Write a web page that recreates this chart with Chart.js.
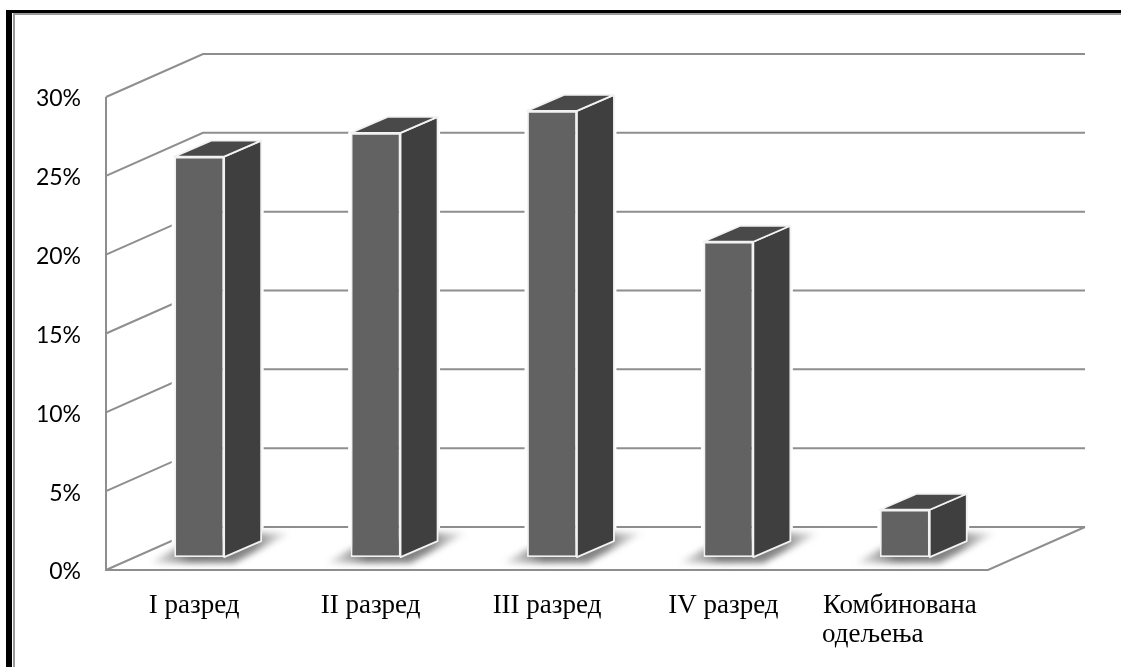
<!DOCTYPE html>
<html>
<head>
<meta charset="utf-8">
<style>
  html, body { margin: 0; padding: 0; background: #fff; overflow: hidden; }
  #frame { position: absolute; left: 6px; top: 10px; width: 1115px; height: 657px; box-sizing: border-box;
           border-left: 6px solid #000; border-top: 3px solid #000; }
  #inner { position: absolute; left: 0; top: 0; right: 0; bottom: 0; border-left: 2px solid #9a9a9a; border-top: 2px solid #9a9a9a; margin-left: 1px; }
  canvas { position: absolute; left: 0; top: 0; }
</style>
</head>
<body>
<div id="frame"><div id="inner"></div></div>
<canvas id="barChart" width="1121" height="667"></canvas>
<script src="https://cdn.jsdelivr.net/npm/chart.js@4"></script>
<script>
// trailing no-break spaces push the second line left, so both lines start at the same x
const categories = ['I разред', 'II разред', 'III разред', 'IV разред',
  ['Комбинована', 'одељења\u00a0\u00a0\u00a0\u00a0\u00a0\u00a0\u00a0\u00a0']];
const percentValues = [25.4, 26.9, 28.3, 20.0, 3.0];
const axisMax = 30;
const axisStep = 5;

// the fake 3D: how far the back wall sits from the front axis, and the bar depth
const wallDx = 97, wallDy = -43;
const barDx = 37, barDy = -16;
const frontShift = 5;    // front axis starts this far left of the chart area
const barLift = 0.82;    // bars stand mid floor, this many % above the front edge

const lineColor = '#8e8e8e';

function poly(ctx, pts) {
  ctx.beginPath();
  pts.forEach((p, i) => i ? ctx.lineTo(p[0], p[1]) : ctx.moveTo(p[0], p[1]));
  ctx.closePath();
}

// walls, floor and axis lines go behind the bars
const wallsPlugin = {
  id: 'walls',
  beforeDatasetsDraw(chart) {
    const ctx = chart.ctx;
    const y = chart.scales.y;
    const left = chart.chartArea.left - frontShift;
    const right = chart.chartArea.right - frontShift;
    ctx.save();
    ctx.strokeStyle = lineColor;
    ctx.lineWidth = 2;
    y.ticks.forEach((t) => {
      const py = y.getPixelForValue(t.value);
      ctx.beginPath();
      ctx.moveTo(left, py);
      ctx.lineTo(left + wallDx, py + wallDy);
      ctx.lineTo(right + wallDx, py + wallDy);
      ctx.stroke();
    });
    const top = y.getPixelForValue(axisMax);
    const bottom = y.getPixelForValue(0);
    ctx.beginPath();
    ctx.moveTo(left, top);
    ctx.lineTo(left, bottom);
    ctx.lineTo(right, bottom);
    ctx.lineTo(right + wallDx, bottom + wallDy);
    ctx.stroke();
    ctx.restore();
  }
};

// halo, shadow, top and side faces, taken from the bar elements chart.js laid out
const barFacesPlugin = {
  id: 'barFaces',
  beforeDatasetsDraw(chart) {
    const ctx = chart.ctx;
    chart.getDatasetMeta(0).data.forEach((bar) => {
      const l = bar.x - bar.width / 2, r = bar.x + bar.width / 2;
      const t = bar.y, b = bar.base;

      ctx.save();
      ctx.lineJoin = 'round';
      poly(ctx, [[l, t], [l + barDx, t + barDy], [r + barDx, t + barDy], [r + barDx, b + barDy], [r, b], [l, b]]);
      ctx.strokeStyle = '#fff';
      ctx.lineWidth = 5;
      ctx.stroke();
      ctx.restore();

      ctx.save();
      ctx.filter = 'blur(3px)';
      const grad = ctx.createLinearGradient(l - 26, 0, r + 66, 0);
      grad.addColorStop(0, 'rgba(120,120,120,0.1)');
      grad.addColorStop(0.3, 'rgba(95,95,95,0.85)');
      grad.addColorStop(0.75, 'rgba(105,105,105,0.8)');
      grad.addColorStop(1, 'rgba(150,150,150,0.1)');
      ctx.fillStyle = grad;
      poly(ctx, [[l - 24, b + 6], [r + 10, b + 6], [r + 66, b - 24], [r + 30, b - 24], [l, b - 8]]);
      ctx.fill();
      ctx.restore();

      ctx.save();
      ctx.lineJoin = 'round';
      ctx.strokeStyle = '#f2f2f2';
      ctx.lineWidth = 1.8;
      poly(ctx, [[r, t], [r + barDx, t + barDy], [r + barDx, b + barDy], [r, b]]);
      ctx.fillStyle = '#3f3f3f';
      ctx.fill();
      ctx.stroke();
      poly(ctx, [[l, t], [l + barDx, t + barDy], [r + barDx, t + barDy], [r, t]]);
      ctx.fillStyle = '#494949';
      ctx.fill();
      ctx.stroke();
      ctx.restore();
    });
  }
};

const ctx = document.getElementById('barChart').getContext('2d');
new Chart(ctx, {
  type: 'bar',
  data: {
    labels: categories,
    datasets: [{
      data: percentValues,
      yAxisID: 'yBars',
      backgroundColor: '#626262',
      borderColor: '#f2f2f2',
      borderWidth: 1.8,
      borderSkipped: false,
      barPercentage: 0.283,
      categoryPercentage: 1
    }]
  },
  plugins: [wallsPlugin, barFacesPlugin],
  options: {
    responsive: false,
    animation: false,
    layout: { padding: { left: 0, right: 128, top: 97, bottom: 0 } },
    plugins: { legend: { display: false }, tooltip: { enabled: false } },
    scales: {
      x: {
        grid: { display: false },
        border: { display: false },
        afterFit: (s) => { s.height = 97; },
        ticks: {
          color: '#000',
          font: { family: '"Liberation Serif"', size: 27, lineHeight: 1.08 },
          padding: 13,
          labelOffset: -5,
          maxRotation: 0,
          autoSkip: false
        }
      },
      y: {
        min: 0,
        max: axisMax,
        grid: { display: false },
        border: { display: false },
        afterFit: (s) => { s.width = 111; },
        ticks: {
          stepSize: axisStep,
          color: '#000',
          font: { family: 'Lato', size: 23 },
          padding: 22,
          labelOffset: 2,
          callback: (v) => v + '%'
        }
      },
      yBars: {
        display: false,
        min: -barLift,
        max: axisMax - barLift
      }
    }
  }
});
</script>
</body>
</html>
